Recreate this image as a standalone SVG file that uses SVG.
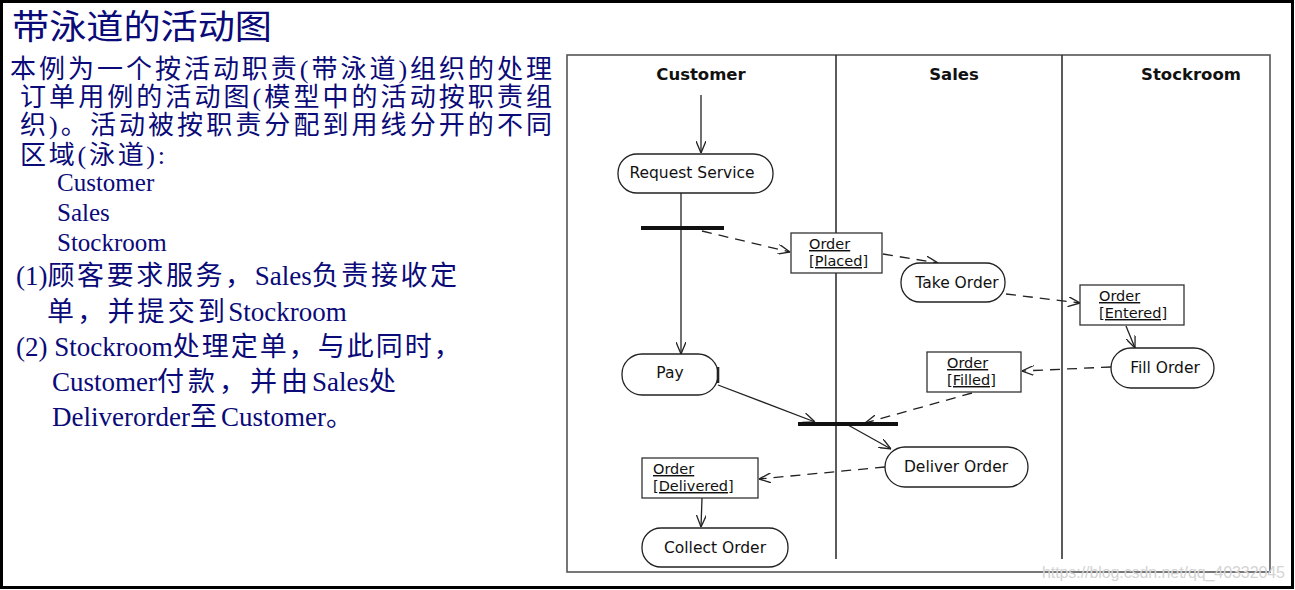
<svg xmlns="http://www.w3.org/2000/svg" width="1295" height="590" viewBox="0 0 1295 590">
<style>
.cn{font-family:"Liberation Serif","Noto Sans CJK SC",serif;fill:#0a0a78}
.frame{fill:none;stroke:#555;stroke-width:1.6}
.lane{stroke:#333;stroke-width:1.6}
.act{fill:#fff;stroke:#222;stroke-width:1.3}
.obj{fill:#fff;stroke:#333;stroke-width:1.3}
.lbl{font-family:"DejaVu Sans",sans-serif;font-size:15.5px;fill:#111;text-anchor:middle}
.hdr{font-weight:bold;font-size:16.5px}
.otx{font-size:14.5px;text-decoration:underline;text-anchor:start}
.flow{stroke:#222;stroke-width:1.3;fill:none;marker-end:url(#arr)}
.dash{stroke-dasharray:10 7}
.bar{fill:#111}
</style>
<defs>
<marker id="arr" viewBox="0 0 12 10" refX="12" refY="5" markerWidth="12" markerHeight="10" markerUnits="userSpaceOnUse" orient="auto">
<path d="M0,0 L12,5 L0,10" fill="none" stroke="#222" stroke-width="1.3"/>
</marker>
</defs>
<rect x="0" y="0" width="1295" height="590" fill="#fff"/>
<rect x="1.5" y="1.5" width="1291" height="586" fill="none" stroke="#000" stroke-width="3"/>

<g id="text-left">
<text class="cn" x="12" y="39" font-size="34" textLength="260" lengthAdjust="spacingAndGlyphs">带泳道的活动图</text>
<text class="cn" x="10" y="78" font-size="26" textLength="542">本例为一个按活动职责(带泳道)组织的处理</text>
<text class="cn" x="20" y="106" font-size="26" textLength="532">订单用例的活动图(模型中的活动按职责组</text>
<text class="cn" x="20" y="134" font-size="26" textLength="532">织)。活动被按职责分配到用线分开的不同</text>
<text class="cn" x="20" y="164" font-size="26" textLength="145">区域(泳道):</text>
<text class="cn" x="57" y="191" font-size="25">Customer</text>
<text class="cn" x="57" y="221" font-size="25">Sales</text>
<text class="cn" x="57" y="251" font-size="25">Stockroom</text>
<text class="cn" x="16" y="285" font-size="27">(1)<tspan letter-spacing="2.6">顾客要求服务，</tspan>Sales<tspan letter-spacing="2.6">负责接收定</tspan></text>
<text class="cn" x="47" y="321" font-size="27"><tspan letter-spacing="3.2">单，并提交到</tspan>Stockroom</text>
<text class="cn" x="16" y="356" font-size="27">(2) Stockroom<tspan letter-spacing="2">处理定单，与此同时，</tspan></text>
<text class="cn" x="52" y="391" font-size="27">Customer<tspan letter-spacing="4">付款，并由</tspan>Sales<tspan>处</tspan></text>
<text class="cn" x="52" y="426" font-size="27">Deliverorder<tspan letter-spacing="4">至</tspan>Customer<tspan>。</tspan></text>
</g>

<g id="swimlanes">
<rect class="frame" x="567" y="55" width="703" height="517"/>
<line class="lane" x1="836" y1="55" x2="836" y2="559"/>
<line class="lane" x1="1062" y1="55" x2="1062" y2="559"/>
<text class="lbl hdr" x="701" y="80">Customer</text>
<text class="lbl hdr" x="954" y="80">Sales</text>
<text class="lbl hdr" x="1191" y="80">Stockroom</text>
</g>

<g id="connectors">
<line class="flow" x1="701" y1="95" x2="701" y2="153"/>
<line class="flow" x1="681" y1="193" x2="681" y2="354"/>
<line class="flow dash" x1="702" y1="231" x2="790" y2="252"/>
<line class="flow dash" x1="883" y1="254" x2="938" y2="263"/>
<line class="flow dash" x1="1006" y1="294" x2="1080" y2="303"/>
<line class="flow" x1="1126" y1="326" x2="1135" y2="348"/>
<line class="flow dash" x1="1111" y1="367" x2="1022" y2="371"/>
<line class="flow dash" x1="972" y1="393" x2="865" y2="423"/>
<line class="flow" x1="718" y1="385" x2="815" y2="422"/>
<line class="flow" x1="848" y1="425" x2="891" y2="449"/>
<line class="flow dash" x1="885" y1="467" x2="759" y2="479"/>
<line class="flow" x1="702" y1="498" x2="701" y2="527"/>
</g>

<g id="fork"><rect class="bar" x="641" y="226" width="83" height="4"/></g>
<g id="join"><rect class="bar" x="798" y="422" width="100" height="4"/></g>

<g id="request-service">
<rect class="act" x="618" y="154" width="155" height="39" rx="19"/>
<text class="lbl" x="692" y="178">Request Service</text>
</g>
<g id="order-placed">
<rect class="obj" x="791" y="233" width="91" height="40"/>
<text class="lbl otx" x="809" y="249">Order</text>
<text class="lbl otx" x="809" y="266">[Placed]</text>
</g>
<g id="take-order">
<rect class="act" x="901" y="263" width="104" height="39" rx="19"/>
<text class="lbl" x="957" y="288">Take Order</text>
</g>
<g id="order-entered">
<rect class="obj" x="1080" y="285" width="104" height="40"/>
<text class="lbl otx" x="1099" y="301">Order</text>
<text class="lbl otx" x="1099" y="318">[Entered]</text>
</g>
<g id="fill-order">
<rect class="act" x="1111" y="348" width="103" height="40" rx="20"/>
<text class="lbl" x="1165" y="373">Fill Order</text>
</g>
<g id="order-filled">
<rect class="obj" x="927" y="352" width="94" height="40"/>
<text class="lbl otx" x="947" y="368">Order</text>
<text class="lbl otx" x="947" y="385">[Filled]</text>
</g>
<g id="pay">
<rect class="act" x="622" y="354" width="96" height="41" rx="20"/>
<line x1="718" y1="367" x2="718" y2="383" stroke="#222" stroke-width="2.6"/>
<text class="lbl" x="670" y="378">Pay</text>
</g>
<g id="deliver-order">
<rect class="act" x="885" y="447" width="143" height="40" rx="20"/>
<text class="lbl" x="956" y="472">Deliver Order</text>
</g>
<g id="order-delivered">
<rect class="obj" x="642" y="458" width="116" height="40"/>
<text class="lbl otx" x="653" y="474">Order</text>
<text class="lbl otx" x="653" y="491">[Delivered]</text>
</g>
<g id="collect-order">
<rect class="act" x="642" y="528" width="146" height="39" rx="19"/>
<text class="lbl" x="715" y="553">Collect Order</text>
</g>

<text x="1042" y="578" font-family="Liberation Sans, sans-serif" font-size="16" fill="#d4d4d4" textLength="243">https://blog.csdn.net/qq_40332045</text>
</svg>
